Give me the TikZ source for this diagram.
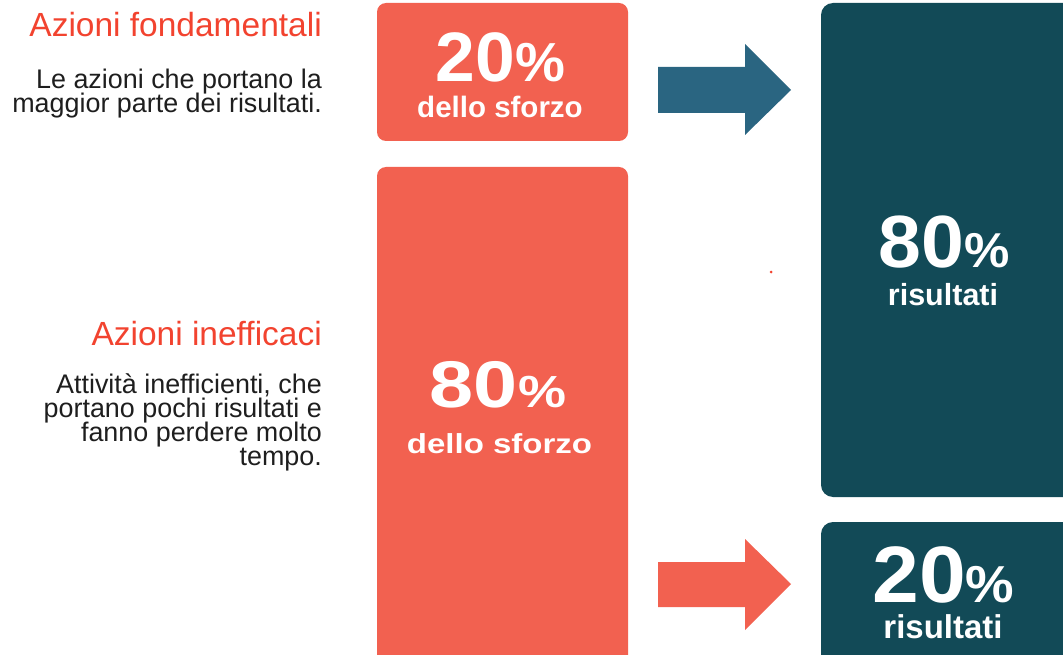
\documentclass[tikz,border=0pt]{standalone}
\usepackage{fontspec}
\setmainfont{Liberation Sans}
\usepackage{graphicx}
\definecolor{coral}{HTML}{F26150}
\definecolor{darkteal}{HTML}{124A57}
\definecolor{arrowblue}{HTML}{2A6581}
\definecolor{titlered}{HTML}{F2432F}
\definecolor{bodygray}{HTML}{1E1E1E}
\tikzset{
  lefttitle/.style={anchor=base east, inner sep=0pt, text=titlered, font=\fontsize{33.5}{36}\selectfont},
  leftbody/.style={anchor=base east, inner sep=0pt, text=bodygray, font=\fontsize{26.9}{24}\selectfont},
  boxtext/.style={anchor=base, inner sep=0pt, text=white, font=\bfseries},
  coralbox/.style={fill=coral, rounded corners=9pt},
  tealbox/.style={fill=darkteal, rounded corners=12pt},
}
\newcommand{\pct}[4]{\scalebox{#1}[1]{\fontsize{#2}{#2}\selectfont #4\fontsize{#3}{#3}\selectfont\%}}
\begin{document}
\begin{tikzpicture}[x=1pt,y=-1pt]
\useasboundingbox (0,0) rectangle (1063,655);
\begin{scope}
\clip (0,0) rectangle (1063,655);
\fill[coralbox] (377,3) rectangle (628,141);
\fill[coralbox] (377,167) rectangle (628,700);
\fill[tealbox] (821,3) rectangle (1090,497);
\fill[tealbox] (821,522) rectangle (1090,700);
\end{scope}
% block arrows
\fill[arrowblue] (658,67) -- (745,67) -- (745,44) -- (791,90) -- (745,135) -- (745,113) -- (658,113) -- cycle;
\fill[coral] (658,562) -- (745,562) -- (745,539) -- (791,584) -- (745,630) -- (745,607) -- (658,607) -- cycle;
\fill[titlered] (771,272) circle (1.5);
% left texts
\node[lefttitle] (t1) at (322,37) {Azioni fondamentali};
\node[leftbody] (b1a) at (322,89) {Le azioni che portano la};
\node[leftbody] (b1b) at (322,113) {maggior parte dei risultati.};
\node[lefttitle] (t2) at (322,345) {Azioni inefficaci};
\node[leftbody] (b2a) at (322,393) {Attività inefficienti, che};
\node[leftbody] (b2b) at (322,417) {portano pochi risultati e};
\node[leftbody] (b2c) at (322,441) {fanno perdere molto};
\node[leftbody] (b2d) at (322,465) {tempo.};
% box texts
\node[boxtext] (e20) at (500.5,82) {\pct{1.02}{70}{55}{20}};
\node[boxtext] (e20s) at (500,118) {\fontsize{29.5}{30}\selectfont dello sforzo};
\node[boxtext] (e80) at (498,407) {\pct{1.2}{66}{45}{80}};
\node[boxtext] (e80s) at (499.5,453) {\scalebox{1.2}[1]{\fontsize{27.5}{30}\selectfont dello sforzo}};
\node[boxtext] (r80) at (944,268) {\pct{1.04}{74}{49}{80}};
\node[boxtext] (r80s) at (943,305) {\fontsize{30.5}{31}\selectfont risultati};
\node[boxtext] (r20) at (943.5,602) {\pct{1.05}{80}{52}{20}};
\node[boxtext] (r20s) at (943,638) {\fontsize{33}{34}\selectfont risultati};
\end{tikzpicture}
\end{document}
